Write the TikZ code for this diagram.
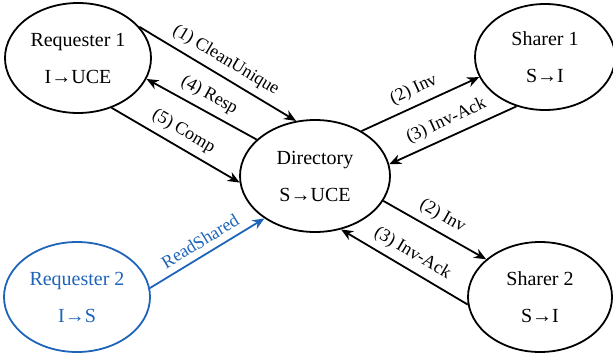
\documentclass[tikz,border=0pt]{standalone}
\usepackage{fontspec}
\setmainfont{Liberation Serif}
\usetikzlibrary{arrows.meta,shapes.geometric}
\definecolor{rsblue}{RGB}{30,100,185}

\begin{document}
\begin{tikzpicture}[
    x=0.5pt, y=-0.5pt,
    state/.style={ellipse, draw, line width=0.9pt, minimum width=73pt, minimum height=55pt, inner sep=0pt, align=center, font=\fontsize{10}{18.5}\selectfont},
    arrow/.style={-{Stealth[length=6pt,width=5pt]}, line width=0.9pt},
    msg/.style={font=\fontsize{9}{11}\selectfont, sloped, above, midway}
]
\useasboundingbox (0,0) rectangle (613,353);

% Caches
\node[state] (req1) at (78,58) {Requester 1\\I→UCE};
\node[state, draw=rsblue, text=rsblue] (req2) at (77,297) {Requester 2\\I→S};
\node[state, minimum width=70pt, minimum height=53pt] (sh1) at (545,57) {Sharer 1\\S→I};
\node[state, minimum width=72pt] (sh2) at (540,297) {Sharer 2\\S→I};

% Home node
\node[state, minimum width=75pt, minimum height=56pt] (dir) at (315,176) {Directory\\S→UCE};

% Requester 1 transaction
\draw[arrow] (req1.27) -- node[msg] {(1) CleanUnique} (dir.109);
\draw[arrow] (dir.148) -- node[msg] {(4) Resp} (req1.-17);
\draw[arrow] (req1.-56) -- node[msg] {(5) Comp} (dir.185);

% Snoops
\draw[arrow] (dir.44) -- node[msg] {(2) Inv} (sh1.197);
\draw[arrow] (sh1.240) -- node[msg] {(3) Inv-Ack} (dir.9);
\draw[arrow] (dir.-20) -- node[msg] {(2) Inv} (sh2.145);
\draw[arrow] (sh2.186) -- node[msg] {(3) Inv-Ack} (dir.-64);

% Requester 2
\draw[arrow, rsblue] (req2.7) -- node[msg] {ReadShared} (dir.220);
\end{tikzpicture}
\end{document}
